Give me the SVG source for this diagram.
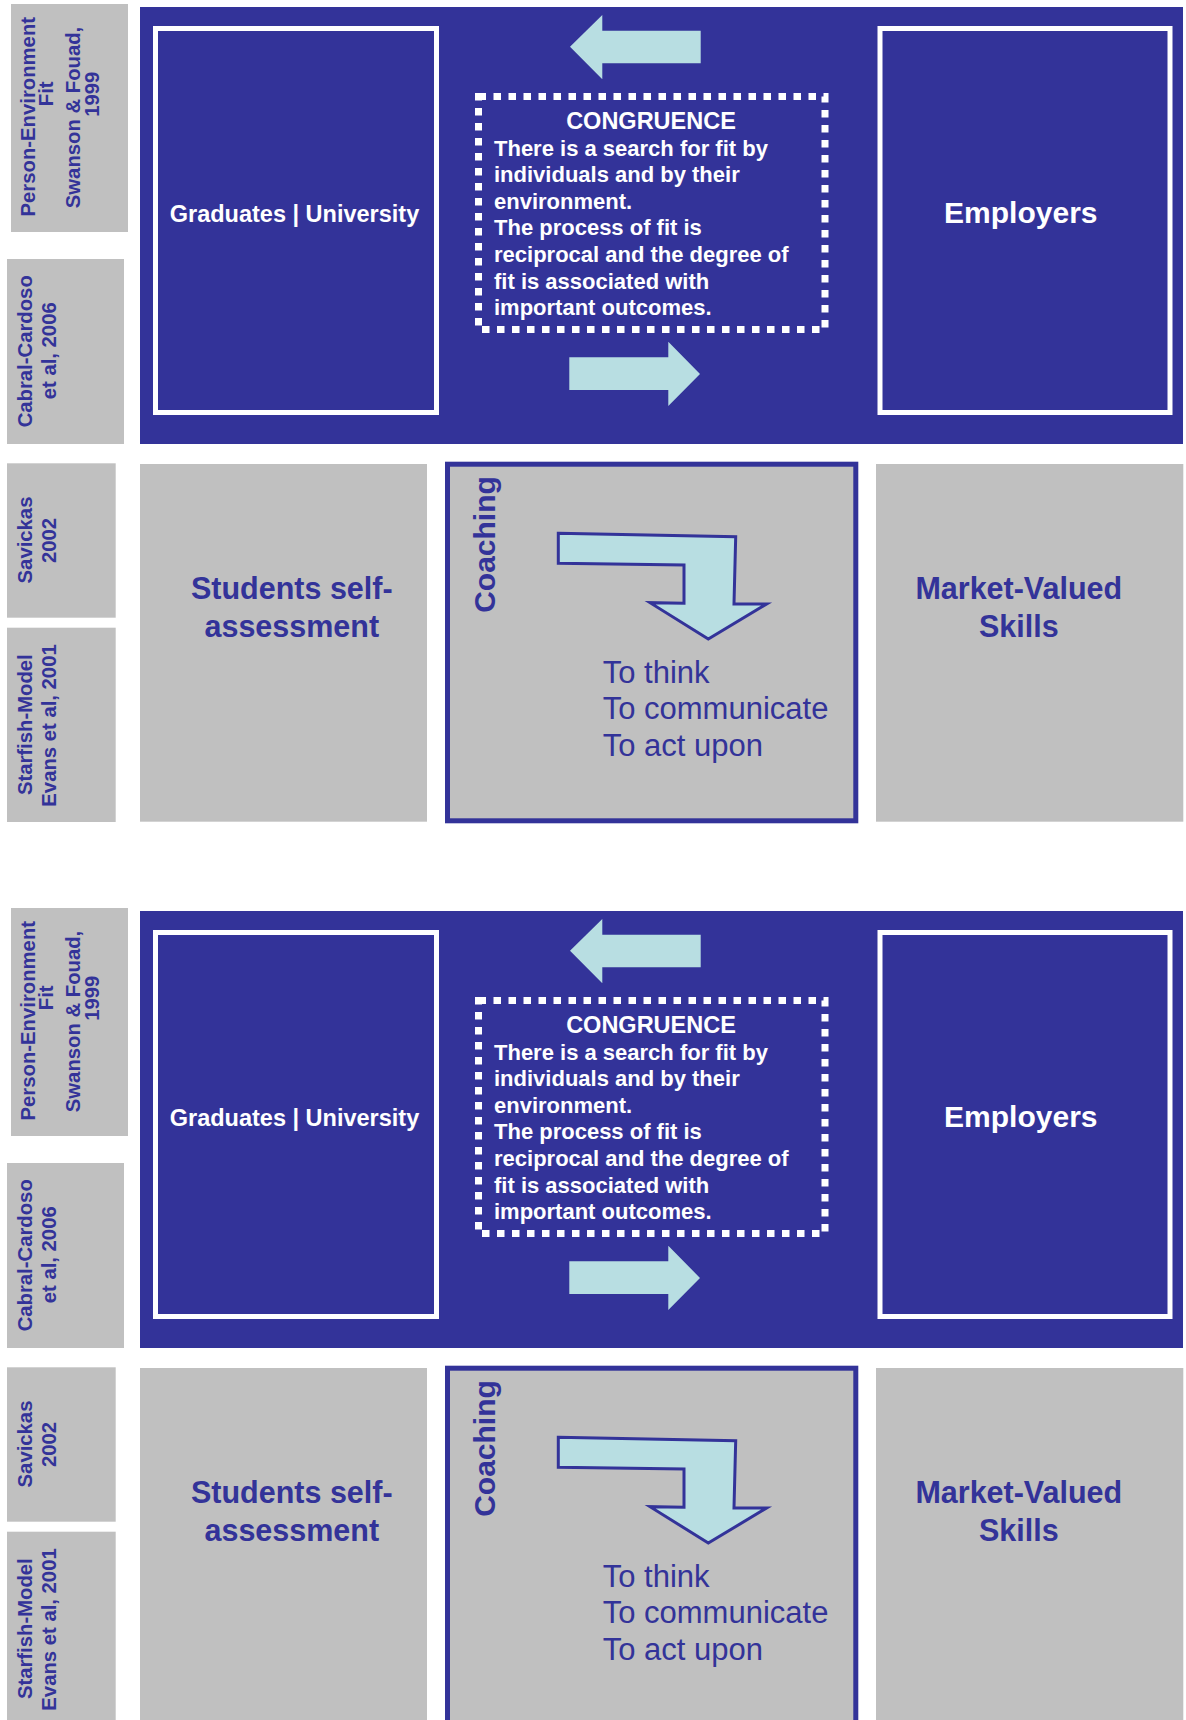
<svg xmlns="http://www.w3.org/2000/svg" width="1186" height="1720" viewBox="0 0 1186 1720">
<defs>
<style>
text{font-family:"Liberation Sans",Arial,sans-serif}
.bg{fill:#ffffff}
.panel{fill:#333399}
.wbox{fill:none;stroke:#ffffff;stroke-width:5}
.dash{fill:none;stroke:#ffffff;stroke-width:7;stroke-dasharray:7.5 7.5}
.gray{fill:#C0C0C0}
.coach{fill:#C0C0C0;stroke:#333399;stroke-width:5}
.arr{fill:#B8DEE2}
.bent{fill:#B8DEE2;stroke:#333399;stroke-width:3;stroke-linejoin:miter}
.side{font-size:20.3px;font-weight:bold;fill:#333399;text-anchor:middle}
.wt{fill:#ffffff;font-weight:bold}
.bt{fill:#333399;font-weight:bold;text-anchor:middle}
.rt{fill:#333399;font-size:31px}
</style>
</defs>
<rect class="bg" x="0" y="0" width="1186" height="1720"/>

<g id="section1">
  <g id="s1-panel"><rect class="panel" x="140" y="7" width="1043" height="437"/></g>
  <g id="s1-ref-pe">
    <rect class="gray" x="11" y="4" width="117" height="228"/>
    <text class="side" transform="translate(35,116.7) rotate(-90)">Person-Environment</text>
    <text class="side" transform="translate(53.3,93.8) rotate(-90)">Fit</text>
    <text class="side" transform="translate(80,117.5) rotate(-90)">Swanson &amp; Fouad,</text>
    <text class="side" transform="translate(99,94.2) rotate(-90)">1999</text>
  </g>
  <g id="s1-ref-cabral">
    <rect class="gray" x="7" y="259" width="117" height="185"/>
    <text class="side" transform="translate(31.7,351.3) rotate(-90)">Cabral-Cardoso</text>
    <text class="side" transform="translate(55.7,350.8) rotate(-90)">et al, 2006</text>
  </g>
  <g id="s1-graduates">
    <rect class="wbox" x="155.5" y="28.5" width="281" height="384"/>
    <text class="wt" x="294.5" y="222" font-size="23.5" text-anchor="middle">Graduates | University</text>
  </g>
  <g id="s1-employers">
    <rect class="wbox" x="880" y="28.5" width="290" height="384"/>
    <text class="wt" x="1020.8" y="223" font-size="30" text-anchor="middle">Employers</text>
  </g>
  <g id="s1-congruence">
    <rect class="dash" x="478.5" y="96.5" width="346.5" height="233"/>
    <text class="wt" x="651" y="128.5" font-size="23.5" text-anchor="middle">CONGRUENCE</text>
    <text class="wt" font-size="22">
      <tspan x="494" y="155.5">There is a search for fit by</tspan>
      <tspan x="494" y="182.1">individuals and by their</tspan>
      <tspan x="494" y="208.7">environment.</tspan>
      <tspan x="494" y="235.3">The process of fit is</tspan>
      <tspan x="494" y="261.9">reciprocal and the degree of</tspan>
      <tspan x="494" y="288.5">fit is associated with</tspan>
      <tspan x="494" y="315.1">important outcomes.</tspan>
    </text>
  </g>
  <g id="s1-ref-savickas">
    <rect class="gray" x="7" y="463.3" width="108.7" height="154.4"/>
    <text class="side" transform="translate(31.7,540) rotate(-90)">Savickas</text>
    <text class="side" transform="translate(56,540.5) rotate(-90)">2002</text>
  </g>
  <g id="s1-ref-starfish">
    <rect class="gray" x="7" y="627.7" width="108.7" height="194.3"/>
    <text class="side" transform="translate(31.7,724.7) rotate(-90)">Starfish-Model</text>
    <text class="side" transform="translate(56,725.5) rotate(-90)">Evans et al, 2001</text>
  </g>
  <g id="s1-students">
    <rect class="gray" x="140" y="464" width="287" height="357.7"/>
    <text class="bt" font-size="30.5"><tspan x="291.8" y="599.3">Students self-</tspan><tspan x="291.8" y="636.7">assessment</tspan></text>
  </g>
  <g id="s1-coaching">
    <rect class="coach" x="447.5" y="464.2" width="408.3" height="356.6"/>
    <text class="bt" font-size="30" transform="translate(494.5,544.5) rotate(-90)">Coaching</text>
    <text class="rt"><tspan x="602.7" y="683.3">To think</tspan><tspan x="602.7" y="719.3">To communicate</tspan><tspan x="602.7" y="756">To act upon</tspan></text>
  </g>
  <g id="s1-market">
    <rect class="gray" x="876" y="464" width="307.3" height="357.7"/>
    <text class="bt" font-size="30.5"><tspan x="1018.8" y="599.3">Market-Valued</tspan><tspan x="1018.8" y="636.7">Skills</tspan></text>
  </g>
  <g id="s1-connectors">
    <polygon class="arr" points="570,46.7 602.3,15 602.3,30.7 700.7,30.7 700.7,63.3 602.3,63.3 602.3,79.3"/>
    <polygon class="arr" points="569.3,357.3 668.3,357.3 668.3,341.7 700,374 668.3,406 668.3,390 569.3,390"/>
    <polygon class="bent" points="558.3,533.3 735.7,536.7 734,604 766.7,604 708.3,639 650,602.7 684,603.3 684,565 558.3,563.3"/>
  </g>
</g>

<g id="section2" transform="translate(0,904)">
  <g id="s2-panel"><rect class="panel" x="140" y="7" width="1043" height="437"/></g>
  <g id="s2-ref-pe">
    <rect class="gray" x="11" y="4" width="117" height="228"/>
    <text class="side" transform="translate(35,116.7) rotate(-90)">Person-Environment</text>
    <text class="side" transform="translate(53.3,93.8) rotate(-90)">Fit</text>
    <text class="side" transform="translate(80,117.5) rotate(-90)">Swanson &amp; Fouad,</text>
    <text class="side" transform="translate(99,94.2) rotate(-90)">1999</text>
  </g>
  <g id="s2-ref-cabral">
    <rect class="gray" x="7" y="259" width="117" height="185"/>
    <text class="side" transform="translate(31.7,351.3) rotate(-90)">Cabral-Cardoso</text>
    <text class="side" transform="translate(55.7,350.8) rotate(-90)">et al, 2006</text>
  </g>
  <g id="s2-graduates">
    <rect class="wbox" x="155.5" y="28.5" width="281" height="384"/>
    <text class="wt" x="294.5" y="222" font-size="23.5" text-anchor="middle">Graduates | University</text>
  </g>
  <g id="s2-employers">
    <rect class="wbox" x="880" y="28.5" width="290" height="384"/>
    <text class="wt" x="1020.8" y="223" font-size="30" text-anchor="middle">Employers</text>
  </g>
  <g id="s2-congruence">
    <rect class="dash" x="478.5" y="96.5" width="346.5" height="233"/>
    <text class="wt" x="651" y="128.5" font-size="23.5" text-anchor="middle">CONGRUENCE</text>
    <text class="wt" font-size="22">
      <tspan x="494" y="155.5">There is a search for fit by</tspan>
      <tspan x="494" y="182.1">individuals and by their</tspan>
      <tspan x="494" y="208.7">environment.</tspan>
      <tspan x="494" y="235.3">The process of fit is</tspan>
      <tspan x="494" y="261.9">reciprocal and the degree of</tspan>
      <tspan x="494" y="288.5">fit is associated with</tspan>
      <tspan x="494" y="315.1">important outcomes.</tspan>
    </text>
  </g>
  <g id="s2-ref-savickas">
    <rect class="gray" x="7" y="463.3" width="108.7" height="154.4"/>
    <text class="side" transform="translate(31.7,540) rotate(-90)">Savickas</text>
    <text class="side" transform="translate(56,540.5) rotate(-90)">2002</text>
  </g>
  <g id="s2-ref-starfish">
    <rect class="gray" x="7" y="627.7" width="108.7" height="194.3"/>
    <text class="side" transform="translate(31.7,724.7) rotate(-90)">Starfish-Model</text>
    <text class="side" transform="translate(56,725.5) rotate(-90)">Evans et al, 2001</text>
  </g>
  <g id="s2-students">
    <rect class="gray" x="140" y="464" width="287" height="357.7"/>
    <text class="bt" font-size="30.5"><tspan x="291.8" y="599.3">Students self-</tspan><tspan x="291.8" y="636.7">assessment</tspan></text>
  </g>
  <g id="s2-coaching">
    <rect class="coach" x="447.5" y="464.2" width="408.3" height="356.6"/>
    <text class="bt" font-size="30" transform="translate(494.5,544.5) rotate(-90)">Coaching</text>
    <text class="rt"><tspan x="602.7" y="683.3">To think</tspan><tspan x="602.7" y="719.3">To communicate</tspan><tspan x="602.7" y="756">To act upon</tspan></text>
  </g>
  <g id="s2-market">
    <rect class="gray" x="876" y="464" width="307.3" height="357.7"/>
    <text class="bt" font-size="30.5"><tspan x="1018.8" y="599.3">Market-Valued</tspan><tspan x="1018.8" y="636.7">Skills</tspan></text>
  </g>
  <g id="s2-connectors">
    <polygon class="arr" points="570,46.7 602.3,15 602.3,30.7 700.7,30.7 700.7,63.3 602.3,63.3 602.3,79.3"/>
    <polygon class="arr" points="569.3,357.3 668.3,357.3 668.3,341.7 700,374 668.3,406 668.3,390 569.3,390"/>
    <polygon class="bent" points="558.3,533.3 735.7,536.7 734,604 766.7,604 708.3,639 650,602.7 684,603.3 684,565 558.3,563.3"/>
  </g>
</g>
</svg>
